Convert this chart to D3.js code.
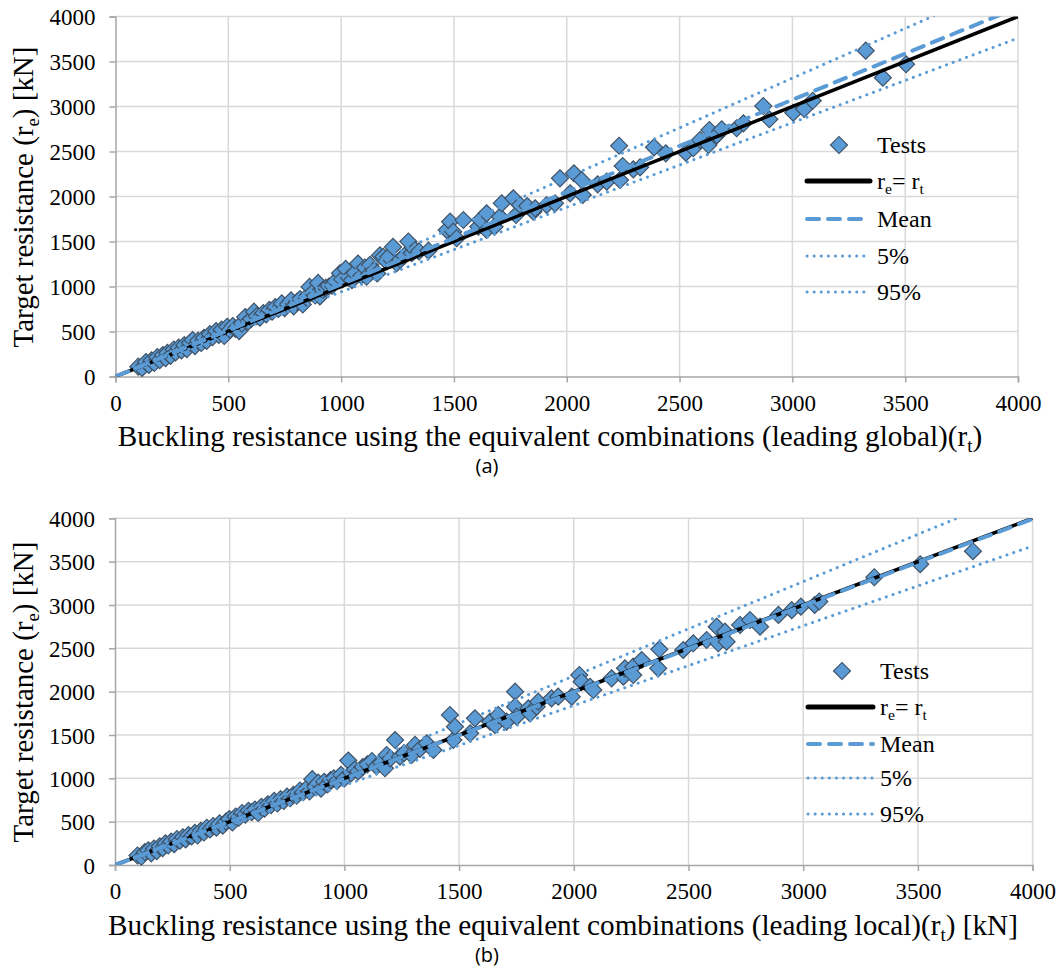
<!DOCTYPE html>
<meta http-equiv="Content-type" content="text/html; charset=UTF-8"/>
<style>body { margin: 0 } svg { display: block }</style>
<svg width="1060" height="973"></svg>
<script src="https://cdnjs.cloudflare.com/ajax/libs/d3/7.8.5/d3.min.js"></script>
<script>
// axis ticks, same on both panels
var ticks = [0, 500, 1000, 1500, 2000, 2500, 3000, 3500, 4000];

// slopes of the fitted lines: [re = rt, mean, 5%, 95%]
var linesA = [1, 1.025, 0.94, 1.105];
var linesB = [1, 0.998, 0.92, 1.09];
var legendLabels = ["Tests", "re= rt", "Mean", "5%", "95%"];

// tests, [rt, re] in kN, panel (a) leading global
var testsA = [
  [101,109],[118,95],[135,160],[148,128],[160,180],[172,150],[185,215],[196,182],[210,238],[222,205],
  [230,262],[244,230],[258,300],[266,268],[280,320],[292,290],[305,348],[316,305],[330,375],[342,405],
  [352,338],[366,398],[380,372],[392,430],[404,395],[418,470],[430,438],[446,505],[458,462],[470,520],
  [482,450],[495,552],[508,520],[520,560],[532,530],[548,505],[560,590],[575,660],[588,610],[602,640],
  [614,720],[626,670],[640,655],[655,705],[668,690],[682,740],[694,720],[708,770],[722,750],[737,812],
  [750,760],[764,800],[778,845],[790,780],[804,830],[818,860],[830,800],[845,880],[860,995],[872,930],
  [885,900],[898,1040],[906,890],[918,960],[932,985],[946,1000],[960,1010],[975,1060],
  [995,1147],[1005,1080],[1020,1195],[1035,1095],[1048,1070],[1060,1150],[1075,1255],[1090,1120],
  [1105,1210],[1113,1108],[1128,1240],[1145,1180],[1160,1145],[1172,1345],[1187,1330],[1200,1280],
  [1210,1330],[1230,1440],[1246,1258],[1262,1300],[1280,1340],[1298,1500],[1313,1370],[1328,1405],
  [1345,1390],[1387,1398],
  [1468,1628],[1483,1720],[1497,1609],[1512,1536],[1542,1739],[1608,1665],[1616,1739],[1645,1813],
  [1645,1628],[1680,1665],[1704,1776],[1712,1924],[1763,1980],[1775,1794],[1793,1906],[1825,1894],
  [1852,1831],[1860,1869],[1911,1906],[1948,1924],[1970,2202],[2015,2035],[2032,2258],[2066,2183],
  [2071,2017],[2137,2135],[2177,2165],[2232,2564],[2236,2183],[2248,2339],[2295,2302],[2325,2324],
  [2387,2546],[2439,2480],[2528,2487],[2561,2536],[2591,2628],[2628,2572],[2632,2739],[2662,2672],
  [2665,2683],[2687,2747],[2753,2758],[2783,2813],[2871,3006],[2898,2858],[3004,2931],[3052,2972],
  [3090,3064],[3325,3620],[3401,3320],[3504,3469]
];

// tests, [rt, re] in kN, panel (b) leading local
var testsB = [
  [98,110],[115,95],[130,150],[145,170],[158,135],[170,190],[182,160],[195,215],[208,195],[220,250],
  [232,225],[245,270],[258,240],[270,300],[283,280],[296,320],[308,295],[320,345],[334,330],[348,370],
  [360,340],[374,395],[388,375],[400,430],[414,410],[428,450],[442,430],[456,480],[470,455],[484,500],
  [498,530],[512,490],[526,560],[540,545],[554,600],[568,580],[582,625],[596,610],[610,640],[624,600],
  [638,670],[652,650],[666,700],[680,690],[694,740],[708,710],[722,760],[736,740],[750,790],[764,770],
  [778,810],[792,800],[806,860],[820,840],[834,880],[848,850],[860,990],[872,900],[886,950],[898,880],
  [912,960],[926,930],[940,980],[954,1000],[968,970],[985,1040],[1000,1000],
  [1017,1205],[1030,1060],[1045,1100],[1060,1080],[1080,1130],[1100,1160],[1120,1200],[1140,1140],
  [1160,1180],[1177,1116],[1184,1269],[1200,1230],[1221,1442],[1242,1250],[1260,1290],[1293,1269],
  [1308,1385],[1330,1340],[1359,1404],[1388,1327],
  [1460,1731],[1475,1442],[1482,1596],[1548,1519],[1569,1692],[1635,1654],[1656,1615],[1671,1731],
  [1707,1654],[1744,2000],[1744,1827],[1751,1711],[1802,1808],[1809,1750],[1838,1827],[1845,1884],
  [1903,1923],[1932,1942],[1991,1942],[2024,2192],[2034,2115],[2071,2057],[2085,2019],[2165,2154],
  [2216,2173],[2223,2269],[2259,2288],[2259,2192],[2296,2365],[2368,2269],[2373,2489],[2477,2481],
  [2521,2558],[2579,2596],[2623,2750],[2630,2558],[2659,2692],[2666,2577],[2725,2769],[2768,2827],
  [2812,2750],[2892,2885],[2950,2940],[2990,2980],[3050,3000],[3070,3040],[3310,3320],[3510,3470],
  [3740,3620]
];

var svg = d3.select("svg");
var blue = "#5b9bd5", edge = "#3f5266";
var serif = "'Liberation Serif', 'DejaVu Serif', serif";

var lineStyles = [
  {color: "#000", width: 3.6, dash: null, cap: "butt"},
  {color: blue, width: 4, dash: "12,9", cap: "round"},
  {color: blue, width: 3, dash: "0.1,7", cap: "round"},
  {color: blue, width: 3, dash: "0.1,7", cap: "round"}
];

// put a label with a subscript: parts = [[text, isSub], ...]
function richText(sel, parts, size) {
  parts.forEach(function(p, i) {
    var t = sel.append("tspan").text(p[0]);
    if (p[1]) t.attr("font-size", size * 0.65).attr("dy", size * 0.22);
    else if (i > 0) t.attr("dy", -size * 0.22);
  });
}

function fitWidth(sel, target) {
  var w = sel.node().getComputedTextLength();
  var k = target / w;
  sel.attr("font-size", +sel.attr("font-size") * k);
  sel.selectAll("tspan").each(function() {
    var t = d3.select(this);
    if (t.attr("font-size")) t.attr("font-size", +t.attr("font-size") * k);
    if (t.attr("dy")) t.attr("dy", +t.attr("dy") * k);
  });
}

function panel(cfg) {
  var x = d3.scaleLinear().domain([0, 4000]).range([cfg.left, cfg.right]);
  var y = d3.scaleLinear().domain([0, 4000]).range([cfg.bottom, cfg.top]);
  var g = svg.append("g");

  // grid
  g.append("g").selectAll("line").data(ticks.slice(1)).join("line")
      .attr("x1", x(0)).attr("x2", x(4000))
      .attr("y1", d => y(d)).attr("y2", d => y(d))
      .attr("stroke", "#d9d9d9").attr("stroke-width", 1.5);
  g.append("g").selectAll("line").data(ticks.slice(1)).join("line")
      .attr("y1", y(0)).attr("y2", y(4000))
      .attr("x1", d => x(d)).attr("x2", d => x(d))
      .attr("stroke", "#d9d9d9").attr("stroke-width", 1.5);

  // axes
  var fmt = d3.format("d");
  var ax = g.append("g").attr("transform", "translate(0," + y(0) + ")")
      .call(d3.axisBottom(x).tickValues(ticks).tickFormat(fmt).tickSize(6).tickPadding(12));
  var ay = g.append("g").attr("transform", "translate(" + x(0) + ",0)")
      .call(d3.axisLeft(y).tickValues(ticks).tickFormat(fmt).tickSize(6).tickPadding(14));
  [ax, ay].forEach(function(a) {
    a.select(".domain").attr("stroke", "#a6a6a6").attr("stroke-width", 1.5);
    a.selectAll(".tick line").attr("stroke", "#a6a6a6").attr("stroke-width", 1.5);
    a.selectAll(".tick text").attr("fill", "#000")
      .style("font-family", serif).style("font-size", "23px");
  });
  ay.selectAll(".tick text").attr("dy", "0.36em");
  ax.selectAll(".tick text").attr("dy", "0.71em");

  // clip
  var cid = "clip" + cfg.id;
  svg.append("clipPath").attr("id", cid).append("rect")
      .attr("x", x(0)).attr("y", y(4000))
      .attr("width", x(4000) - x(0)).attr("height", y(0) - y(4000));

  var sq = d3.symbol().type(d3.symbolSquare).size(144);
  g.append("g").selectAll("path").data(cfg.tests).join("path")
      .attr("d", sq)
      .attr("transform", d => "translate(" + x(d[0]) + "," + y(d[1]) + ") rotate(45)")
      .attr("fill", blue).attr("stroke", edge).attr("stroke-width", 1.2);

  var lg = g.append("g").attr("clip-path", "url(#" + cid + ")");
  cfg.lines.forEach(function(k, i) {
    var s = lineStyles[i];
    lg.append("line")
        .attr("x1", x(0)).attr("y1", y(0))
        .attr("x2", x(4000)).attr("y2", y(4000 * k))
        .attr("stroke", s.color).attr("stroke-width", s.width)
        .attr("stroke-dasharray", s.dash).attr("stroke-linecap", s.cap);
  });

  // legend
  var L = cfg.legend;
  var leg = g.append("g");
  leg.append("path").attr("d", sq)
      .attr("transform", "translate(" + L.mx + "," + L.ys[0] + ") rotate(45)")
      .attr("fill", blue).attr("stroke", edge).attr("stroke-width", 1.2);
  lineStyles.forEach(function(s, i) {
    leg.append("line")
        .attr("x1", L.x0).attr("x2", L.x1).attr("y1", L.ys[i + 1]).attr("y2", L.ys[i + 1])
        .attr("stroke", s.color).attr("stroke-width", i == 0 ? 5 : s.width)
        .attr("stroke-dasharray", s.dash).attr("stroke-linecap", i == 0 ? "round" : s.cap);
  });
  legendLabels.forEach(function(lbl, i) {
    var t = leg.append("text").attr("x", L.tx).attr("y", L.ys[i] + 8)
        .attr("font-size", 24).style("font-family", serif);
    if (i == 1) richText(t, [["r", 0], ["e", 1], ["= r", 0], ["t", 1]], 24);
    else t.text(lbl);
  });

  // titles
  var xt = g.append("text").attr("x", cfg.xtx).attr("y", cfg.xty)
      .attr("text-anchor", "middle").attr("font-size", 26).style("font-family", serif);
  richText(xt, cfg.xtitle, 26);
  fitWidth(xt, cfg.xtw);

  var yt = g.append("text")
      .attr("transform", "translate(" + cfg.ytx + "," + cfg.yty + ") rotate(-90)")
      .attr("text-anchor", "middle").attr("font-size", 26).style("font-family", serif);
  richText(yt, [["Target resistance (r", 0], ["e", 1], [") [kN]", 0]], 26);
  fitWidth(yt, 301);

  g.append("text").attr("x", cfg.lx).attr("y", cfg.ly).attr("text-anchor", "middle")
      .style("font-family", "'Open Sans', 'Noto Sans', sans-serif").style("font-size", "20px")
      .text(cfg.label);
}

panel({
  id: "a", left: 115.5, right: 1018, top: 16.5, bottom: 376.5,
  tests: testsA, lines: linesA,
  legend: {mx: 839, x0: 807, x1: 870, tx: 877, ys: [145, 181, 219, 256, 292]},
  xtitle: [["Buckling resistance using the equivalent combinations (leading global)(r", 0], ["t", 1], [")", 0]],
  xtx: 550, xty: 446, xtw: 865,
  ytx: 33, yty: 197,
  label: "(a)", lx: 487, ly: 473
});

panel({
  id: "b", left: 115, right: 1032.6, top: 518.3, bottom: 865,
  tests: testsB, lines: linesB,
  legend: {mx: 842, x0: 808, x1: 873, tx: 880, ys: [671, 707, 744, 778, 814]},
  xtitle: [["Buckling resistance using the equivalent combinations (leading local)(r", 0], ["t", 1], [") [kN]", 0]],
  xtx: 563, xty: 935, xtw: 910,
  ytx: 33, yty: 692,
  label: "(b)", lx: 487, ly: 962
});
</script>
